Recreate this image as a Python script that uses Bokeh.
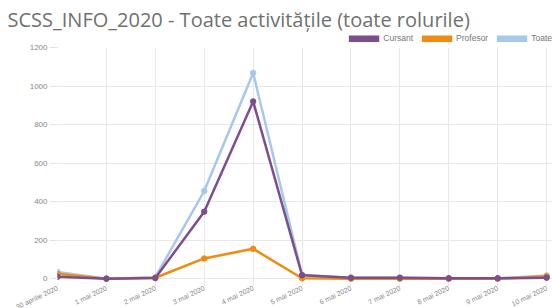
from bokeh.plotting import figure
from bokeh.models import Range1d, FixedTicker, Legend, LegendItem, Label
from bokeh.embed import file_html
from bokeh.resources import INLINE

title_text = "SCSS_INFO_2020 - Toate activitățile (toate rolurile)"
dates = ["30 aprilie 2020", "1 mai 2020", "2 mai 2020", "3 mai 2020", "4 mai 2020",
         "5 mai 2020", "6 mai 2020", "7 mai 2020", "8 mai 2020", "9 mai 2020", "10 mai 2020"]
cursant = [10, 0, 3, 348, 920, 18, 5, 5, 2, 2, 5]
profesor = [25, 0, 5, 105, 155, 2, 0, 0, 0, 0, 12]
toate = [35, 0, 8, 455, 1068, 20, 5, 5, 2, 2, 17]
y_ticks = [0, 200, 400, 600, 800, 1000, 1200]
series_names = ["Cursant", "Profesor", "Toate"]
colors = ["#7d4e8e", "#f18a12", "#a7c8ec"]

x = list(range(len(dates)))
W = 552
LEFT = 57
x_end = len(dates) - 1 + 0.12
px_per_unit = (W - LEFT) / x_end

# ---- header: title + legend ----
head = figure(width=W, height=43, output_backend="svg", toolbar_location=None,
              x_axis_type=None, y_axis_type=None,
              min_border_left=0, min_border_right=0, min_border_top=0, min_border_bottom=0)
head.outline_line_color = None
head.grid.visible = False
head.add_layout(Label(x=7, y=24, x_units="screen", y_units="screen", text=title_text,
                      text_font="Open Sans", text_font_size="20px", text_color="#707070",
                      text_align="left", text_baseline="middle"))
dummies = [head.line(x, vals, line_color=c, line_width=7, line_cap="butt", visible=False)
           for vals, c in zip([cursant, profesor, toate], colors)]
legend = Legend(items=[LegendItem(label=n, renderers=[r]) for n, r in zip(series_names, dummies)],
                orientation="horizontal", location="bottom_right",
                glyph_width=31, glyph_height=7, spacing=8, padding=0, margin=0,
                label_standoff=4, label_text_font="Liberation Sans",
                label_text_font_size="8.5px", label_text_color="#777777",
                border_line_color=None, background_fill_alpha=0)
head.add_layout(legend, "center")

# ---- main chart ----
p = figure(width=W, height=240, output_backend="svg", toolbar_location=None,
           x_range=Range1d(0, x_end), y_range=Range1d(-25, 1200),
           x_axis_location=None,
           min_border_left=LEFT, min_border_right=0, min_border_top=4, min_border_bottom=0)
p.outline_line_color = None

# draw order: Toate bottom, Cursant on top
for vals, col in [(toate, colors[2]), (profesor, colors[1]), (cursant, colors[0])]:
    p.line(x, vals, line_color=col, line_width=2.5)
    p.scatter(x, vals, size=5.5, fill_color=col, line_color=col)

p.yaxis.ticker = FixedTicker(ticks=y_ticks)
p.yaxis.major_label_text_font_size = "8px"
p.yaxis.major_tick_out = 8
p.yaxis.major_tick_in = 0
p.yaxis.axis_line_color = None
p.yaxis.major_tick_line_color = "#e4e4e4"
p.yaxis.minor_tick_line_color = None
p.yaxis.major_label_text_font = "Liberation Sans"
p.yaxis.major_label_text_color = "#888888"
p.yaxis.major_label_standoff = 2

p.xgrid.ticker = FixedTicker(ticks=x)
p.ygrid.ticker = FixedTicker(ticks=y_ticks)
p.grid.grid_line_color = "#e8e8e8"
p.grid.grid_line_width = 1

# ---- footer: date axis (aligned with the main chart's x scale) ----
foot = figure(width=W, height=25, output_backend="svg", toolbar_location=None,
              x_range=Range1d(-LEFT / px_per_unit, x_end), y_range=Range1d(0, 1),
              y_axis_type=None,
              min_border_left=0, min_border_right=0, min_border_top=0, min_border_bottom=0)
foot.outline_line_color = None
foot.grid.visible = False
foot.xaxis.fixed_location = 1
foot.xaxis.ticker = FixedTicker(ticks=x)
foot.xaxis.major_label_overrides = {i: d for i, d in zip(x, dates)}
foot.xaxis.major_label_orientation = 0.45
foot.xaxis.major_label_text_font_size = "7px"
foot.xaxis.major_label_text_font = "Liberation Sans"
foot.xaxis.major_label_text_color = "#888888"
foot.xaxis.major_label_standoff = 1
foot.xaxis.major_tick_out = 3
foot.xaxis.major_tick_in = 0
foot.xaxis.major_tick_line_color = "#e4e4e4"
foot.xaxis.minor_tick_line_color = None
foot.xaxis.axis_line_color = None

open("out.html", "w").write(file_html([head, p, foot], INLINE))
